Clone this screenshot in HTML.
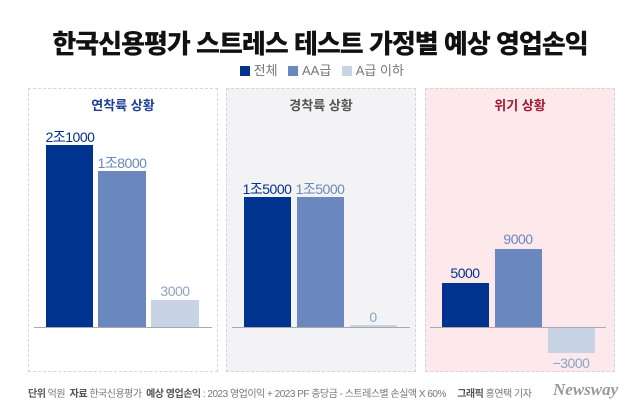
<!DOCTYPE html>
<html><head><meta charset="utf-8"><style>
body{margin:0;width:640px;height:412px;background:#fff;font-family:"Liberation Sans","Noto Sans CJK KR",sans-serif;position:relative;overflow:hidden}
.a{position:absolute}
.t{left:0;width:640px;top:24px;text-align:center;font-size:26px;font-weight:900;color:#111;letter-spacing:-1px}
.p{border:1px dashed #d6d6d6;top:88px;height:284px;box-sizing:border-box}
.h{font-size:13px;font-weight:bold;text-align:center;width:100%;top:6px}
.b{position:absolute}
.l{position:absolute;font-size:14px;text-align:center;width:70px;letter-spacing:-0.5px}
.base{position:absolute;height:1px;background:#aaa}
</style></head><body>
<div class="a t">한국신용평가 스트레스 테스트 가정별 예상 영업손익</div>
<div class="a" style="top:60px;left:240px;font-size:13px;color:#777;white-space:nowrap">
<span style="display:inline-block;width:10px;height:10px;background:#00338f;vertical-align:-1px"></span> 전체&nbsp;&nbsp;
<span style="display:inline-block;width:10px;height:10px;background:#6a88bf;vertical-align:-1px"></span> AA급&nbsp;&nbsp;
<span style="display:inline-block;width:10px;height:10px;background:#c8d4e6;vertical-align:-1px"></span> A급 이하</div>

<div class="a p" style="left:28px;width:190px;background:#fff"><div class="a h" style="color:#1d3f9a">연착륙 상황</div></div>
<div class="a p" style="left:226px;width:190px;background:#f3f3f5"><div class="a h" style="color:#555">경착륙 상황</div></div>
<div class="a p" style="left:425px;width:190px;background:#fde8ec"><div class="a h" style="color:#a0182e">위기 상황</div></div>

<div class="b" style="left:46px;top:145px;width:47px;height:182px;background:#00338f"></div>
<div class="b" style="left:98px;top:171px;width:48px;height:156px;background:#6a88bf"></div>
<div class="b" style="left:151px;top:300px;width:48px;height:27px;background:#c8d4e6"></div>
<div class="base" style="left:34px;width:178px;top:327px"></div>
<div class="l" style="left:35px;top:127px;color:#00338f">2조1000</div>
<div class="l" style="left:87px;top:153px;color:#6a88bf">1조8000</div>
<div class="l" style="left:140px;top:283px;color:#8ea3c9">3000</div>

<div class="b" style="left:244px;top:197px;width:47px;height:130px;background:#00338f"></div>
<div class="b" style="left:297px;top:197px;width:47px;height:130px;background:#6a88bf"></div>
<div class="b" style="left:350px;top:325px;width:47px;height:2px;background:#c8d4e6"></div>
<div class="base" style="left:232px;width:178px;top:327px"></div>
<div class="l" style="left:232px;top:179px;color:#00338f">1조5000</div>
<div class="l" style="left:285px;top:179px;color:#6a88bf">1조5000</div>
<div class="l" style="left:338px;top:309px;color:#8ea3c9">0</div>

<div class="b" style="left:442px;top:283px;width:47px;height:44px;background:#00338f"></div>
<div class="b" style="left:495px;top:249px;width:47px;height:78px;background:#6a88bf"></div>
<div class="b" style="left:548px;top:327px;width:47px;height:26px;background:#c8d4e6"></div>
<div class="base" style="left:430px;width:176px;top:327px"></div>
<div class="l" style="left:430px;top:265px;color:#00338f">5000</div>
<div class="l" style="left:483px;top:231px;color:#6a88bf">9000</div>
<div class="l" style="left:536px;top:355px;color:#8ea3c9">−3000</div>

<div class="a" style="left:28px;top:385px;font-size:10px;color:#777;white-space:nowrap;letter-spacing:-0.5px"><b style="color:#555">단위</b> 억원&nbsp;&nbsp;<b style="color:#555">자료</b> 한국신용평가&nbsp;&nbsp;<b style="color:#555">예상 영업손익</b> : 2023 영업이익 + 2023 PF 충당금 - 스트레스별 손실액 X 60%&nbsp;&nbsp;&nbsp;&nbsp;&nbsp;<b style="color:#555">그래픽</b> 홍연택 기자</div>
<div class="a" style="left:553px;top:380px;font-size:17px;font-style:italic;font-weight:bold;color:#999;font-family:'Liberation Serif',serif">Newsway</div>
</body></html>
